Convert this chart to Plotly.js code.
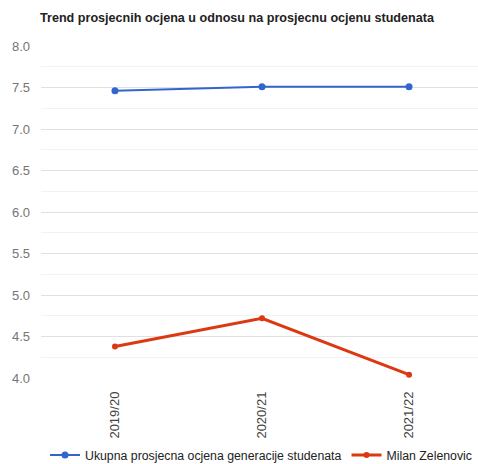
<!DOCTYPE html>
<html>
<head>
<meta charset="utf-8">
<script src="https://cdn.plot.ly/plotly-3.0.1.min.js"></script>
<style>html,body{margin:0;padding:0;background:#fff;}#chart{width:478px;height:464px;}</style>
</head>
<body>
<div id="chart"></div>
<script>
const categories = ["2019/20", "2020/21", "2021/22"];
const ukupna = [7.46, 7.51, 7.51];
const milan = [4.38, 4.72, 4.04];
const seriesNames = ["Ukupna prosjecna ocjena generacije studenata", "Milan Zelenovic"];
const yTicks = [4.0, 4.5, 5.0, 5.5, 6.0, 6.5, 7.0, 7.5, 8.0];

const data = [
  {
    x: categories, y: ukupna, name: seriesNames[0], type: 'scatter', mode: 'lines+markers',
    line: {color: '#3366cc', width: 2}, marker: {color: '#3366cc', size: 7}
  },
  {
    x: categories, y: milan, name: seriesNames[1], type: 'scatter', mode: 'lines+markers',
    line: {color: '#dc3912', width: 3}, marker: {color: '#dc3912', size: 6}
  }
];

const layout = {
  width: 478, height: 464,
  margin: {l: 41, r: 0, t: 46, b: 86, pad: 0},
  paper_bgcolor: '#fff', plot_bgcolor: '#fff',
  font: {family: 'Liberation Sans, Arial, sans-serif', size: 12.6, color: '#444'},
  title: {
    text: '<b>Trend prosjecnih ocjena u odnosu na prosjecnu ocjenu studenata</b>',
    x: 40/478, xanchor: 'left', xref: 'container',
    y: 1 - 18/464, yanchor: 'middle', yref: 'container',
    font: {size: 12.6, color: '#222', family: 'Liberation Sans, Arial, sans-serif'}
  },
  xaxis: {
    type: 'category', range: [-0.503, 2.469],
    showgrid: false, zeroline: false, showline: false, ticks: '',
    tickangle: -90, ticklabelstandoff: 10,
    tickfont: {size: 13, color: '#444'}, automargin: false
  },
  yaxis: {
    range: [4, 8], tickvals: yTicks, ticktext: yTicks.map(v => v.toFixed(1)),
    showgrid: true, gridcolor: '#e0e0e0', gridwidth: 1, zeroline: false, showline: false,
    ticks: '', ticklabelstandoff: 10,
    tickfont: {size: 13, color: '#757575'}, automargin: false,
    minor: {dtick: 0.25, tick0: 4.25, showgrid: true, gridcolor: '#f2f2f2', gridwidth: 1}
  },
  showlegend: true,
  legend: {
    orientation: 'h', xref: 'container', yref: 'container',
    x: 261/478, xanchor: 'center', y: 1 - 455/464, yanchor: 'middle',
    font: {size: 12.3, color: '#222'}, itemwidth: 30, bgcolor: 'rgba(0,0,0,0)'
  }
};

Plotly.newPlot('chart', data, layout, {displayModeBar: false, staticPlot: true});
</script>
</body>
</html>
